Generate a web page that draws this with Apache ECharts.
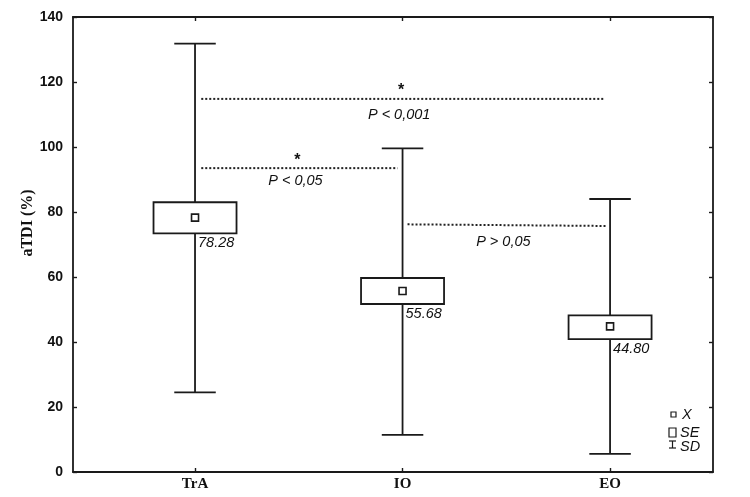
<!DOCTYPE html>
<html>
<head>
<meta charset="utf-8">
<script src="https://cdn.jsdelivr.net/npm/echarts@6/dist/echarts.min.js"></script>
<style>
  html, body { margin: 0; padding: 0; background: #fff; }
  #chart { width: 750px; height: 497px; }
</style>
</head>
<body>
<div id="chart"></div>
<script>
// groups and their summary stats (mean, SE box, SD whiskers)
const categories = ["TrA", "IO", "EO"];
const means = [78.28, 55.68, 44.80];
const seLow = [73.4, 51.7, 40.9];
const seHigh = [83.0, 59.7, 48.2];
const sdLow = [24.5, 11.4, 5.6];
const sdHigh = [131.8, 99.6, 84.0];

// pairwise comparisons (x in group units, TrA = 1)
const compFrom = [1.03, 1.03, 2.024];
const compTo = [2.976, 1.976, 2.986];
const compYStart = [114.8, 93.5, 76.2];
const compYEnd = [114.8, 93.5, 75.7];
const compStar = ["*", "*", ""];
const compText = ["P < 0,001", "P < 0,05", "P > 0,05"];

const yTicks = [0, 20, 40, 60, 80, 100, 120, 140];

const ink = "#1a1a1a";
const catX = categories.map((c, i) => i + 1);

const boxData = categories.map((c, i) => [i + 1, means[i], seLow[i], seHigh[i], sdLow[i], sdHigh[i]]);
const compData = compText.map((t, i) => [compFrom[i], compTo[i], compYStart[i], compYEnd[i], i]);

function renderBox(params, api) {
    const x = api.value(0);
    const pMean = api.coord([x, api.value(1)]);
    const pSeLo = api.coord([x, api.value(2)]);
    const pSeHi = api.coord([x, api.value(3)]);
    const pSdLo = api.coord([x, api.value(4)]);
    const pSdHi = api.coord([x, api.value(5)]);
    const halfBox = api.size([0.2, 0])[0];
    const halfCap = api.size([0.1, 0])[0];
    const cx = pMean[0];
    const st = { stroke: ink, lineWidth: 1.8, fill: null };
    return {
        type: "group",
        children: [
            { type: "line", shape: { x1: cx, y1: pSdHi[1], x2: cx, y2: pSeHi[1] }, style: st },
            { type: "line", shape: { x1: cx, y1: pSeLo[1], x2: cx, y2: pSdLo[1] }, style: st },
            { type: "line", shape: { x1: cx - halfCap, y1: pSdHi[1], x2: cx + halfCap, y2: pSdHi[1] }, style: st },
            { type: "line", shape: { x1: cx - halfCap, y1: pSdLo[1], x2: cx + halfCap, y2: pSdLo[1] }, style: st },
            {
                type: "rect",
                shape: { x: cx - halfBox, y: pSeHi[1], width: halfBox * 2, height: pSeLo[1] - pSeHi[1] },
                style: { stroke: ink, lineWidth: 1.8, fill: "#fff" }
            },
            {
                type: "rect",
                shape: { x: cx - 3.5, y: pMean[1] - 3.5, width: 7, height: 7 },
                style: { stroke: ink, lineWidth: 1.6, fill: "#fff" }
            },
            {
                type: "text",
                x: cx + 3,
                y: pSeLo[1] + 2,
                style: {
                    text: api.value(1).toFixed(2),
                    fill: "#111",
                    font: "italic 14.5px 'Liberation Sans', Arial, sans-serif",
                    align: "left",
                    verticalAlign: "top"
                }
            }
        ]
    };
}

function renderComp(params, api) {
    const i = api.value(4);
    const p1 = api.coord([api.value(0), api.value(2)]);
    const p2 = api.coord([api.value(1), api.value(3)]);
    const mid = (p1[0] + p2[0]) / 2;
    const midY = (p1[1] + p2[1]) / 2;
    const kids = [
        {
            type: "line",
            shape: { x1: p1[0], y1: p1[1], x2: p2[0], y2: p2[1] },
            style: { stroke: "#222", lineWidth: 2, lineDash: [2, 2] }
        },
        {
            type: "text",
            x: mid - 4,
            y: midY + (i === 2 ? 17 : i === 1 ? 13 : 16),
            style: {
                text: compText[i],
                fill: "#111",
                font: "italic 14.5px 'Liberation Sans', Arial, sans-serif",
                align: "center",
                verticalAlign: "middle"
            }
        }
    ];
    if (compStar[i]) {
        kids.push({
            type: "text",
            x: mid - 2,
            y: midY - 8,
            style: {
                text: compStar[i],
                fill: "#111",
                font: "bold 16px 'Liberation Sans', Arial, sans-serif",
                align: "center",
                verticalAlign: "middle"
            }
        });
    }
    return { type: "group", children: kids };
}

const chart = echarts.init(document.getElementById("chart"));

const xCommon = {
    type: "value",
    min: 0.412,
    max: 3.496,
    splitLine: { show: false },
    axisLine: { show: true, onZero: false, lineStyle: { color: ink, width: 1.8 } },
    axisTick: { show: true, inside: true, length: 4, customValues: catX, lineStyle: { color: ink, width: 1.4 } }
};
const yCommon = {
    type: "value",
    min: 0,
    max: 140,
    interval: 20,
    splitLine: { show: false },
    axisLine: { show: true, onZero: false, lineStyle: { color: ink, width: 1.8 } },
    axisTick: { show: true, inside: true, length: 4, lineStyle: { color: ink, width: 1.4 } }
};

const option = {
    animation: false,
    backgroundColor: "#fff",
    grid: { left: 73, right: 37, top: 17, bottom: 25 },
    xAxis: [
        Object.assign({}, xCommon, {
            position: "bottom",
            axisLabel: {
                customValues: catX,
                formatter: v => categories[Math.round(v) - 1] || "",
                margin: 5,
                color: "#111",
                fontFamily: "'Liberation Serif', 'DejaVu Serif', serif",
                fontWeight: "bold",
                fontSize: 15
            }
        }),
        Object.assign({}, xCommon, { position: "top", axisLabel: { show: false } })
    ],
    yAxis: [
        Object.assign({}, yCommon, {
            position: "left",
            axisLabel: {
                formatter: v => yTicks.indexOf(v) >= 0 ? String(v) : "",
                margin: 10,
                color: "#111",
                fontFamily: "'Liberation Sans', Arial, sans-serif",
                fontWeight: "bold",
                fontSize: 14
            }
        }),
        Object.assign({}, yCommon, { position: "right", axisLabel: { show: false } })
    ],
    graphic: [
        {
            type: "text",
            x: 28,
            y: 223,
            rotation: Math.PI / 2,
            style: {
                text: "aTDI (%)",
                fill: "#111",
                font: "bold 16px 'Liberation Serif', 'DejaVu Serif', serif",
                align: "center",
                verticalAlign: "middle"
            }
        },
        // legend
        { type: "rect", shape: { x: 671, y: 412, width: 5, height: 5 }, style: { stroke: ink, lineWidth: 1.2, fill: "#fff" } },
        { type: "text", x: 682, y: 415, style: { text: "X", fill: "#111", font: "italic 14.5px 'Liberation Sans', Arial, sans-serif", verticalAlign: "middle" } },
        { type: "rect", shape: { x: 669, y: 428, width: 7, height: 9 }, style: { stroke: ink, lineWidth: 1.2, fill: "#fff" } },
        { type: "text", x: 680, y: 433, style: { text: "SE", fill: "#111", font: "italic 14.5px 'Liberation Sans', Arial, sans-serif", verticalAlign: "middle" } },
        { type: "polyline", shape: { points: [[669, 441], [676, 441]] }, style: { stroke: ink, lineWidth: 1.2 } },
        { type: "polyline", shape: { points: [[672.5, 441], [672.5, 448]] }, style: { stroke: ink, lineWidth: 1.2 } },
        { type: "polyline", shape: { points: [[669, 448], [676, 448]] }, style: { stroke: ink, lineWidth: 1.2 } },
        { type: "text", x: 680, y: 447, style: { text: "SD", fill: "#111", font: "italic 14.5px 'Liberation Sans', Arial, sans-serif", verticalAlign: "middle" } }
    ],
    series: [
        {
            type: "custom",
            name: "comparisons",
            xAxisIndex: 0,
            yAxisIndex: 0,
            renderItem: renderComp,
            data: compData,
            silent: true
        },
        {
            type: "custom",
            name: "groups",
            xAxisIndex: 0,
            yAxisIndex: 0,
            renderItem: renderBox,
            data: boxData,
            silent: true,
            z: 3
        }
    ]
};

chart.setOption(option);
</script>
</body>
</html>
